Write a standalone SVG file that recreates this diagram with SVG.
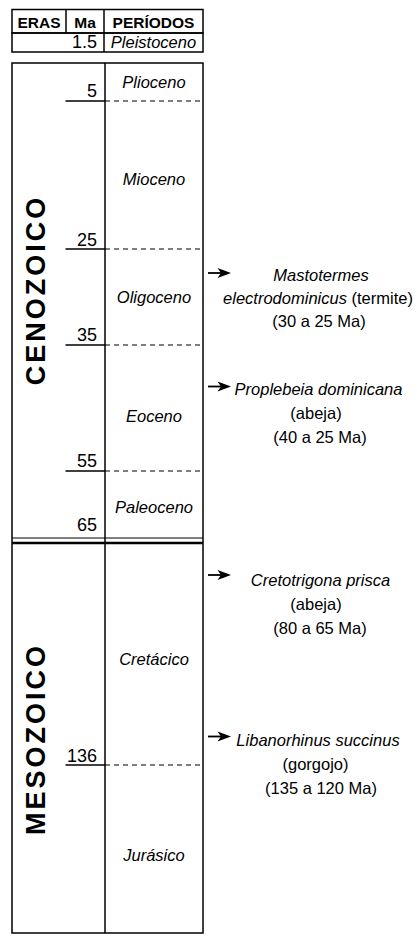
<svg xmlns="http://www.w3.org/2000/svg" width="417" height="943" viewBox="0 0 417 943">
<defs>
<style>
text{font-family:"Liberation Sans",Arial,sans-serif;fill:#000}
.ln{stroke:#000;stroke-width:1.5;fill:none}
.tk{stroke:#000;stroke-width:1.5}
.ds{stroke:#000;stroke-width:1.2;stroke-dasharray:5 4}
.hdr{font-weight:bold;font-size:15.5px;text-anchor:middle}
.per{font-style:italic;font-size:16.5px;text-anchor:middle}
.num{font-size:18px;text-anchor:end}
.era{font-weight:bold;font-size:27px;letter-spacing:3px;text-anchor:middle}
.ann{font-size:16.5px;text-anchor:middle}
.it{font-style:italic}
.ar{stroke:#000;stroke-width:1.8}
</style>
</defs>
<rect width="417" height="943" fill="#fff"/>

<g id="header">
<rect class="ln" x="12" y="9.5" width="191" height="23.5"/>
<line class="ln" x1="66" y1="9.5" x2="66" y2="33"/>
<line class="ln" x1="104" y1="9.5" x2="104" y2="52"/>
<text class="hdr" x="39" y="28">ERAS</text>
<text class="hdr" x="85" y="28">Ma</text>
<text class="hdr" x="153.5" y="28">PERÍODOS</text>
</g>

<g id="pleistoceno">
<rect class="ln" x="12" y="33" width="191" height="19"/>
<text class="num" x="97" y="48">1.5</text>
<text class="per" x="153.5" y="48">Pleistoceno</text>
</g>

<g id="table">
<rect class="ln" x="12" y="63" width="191" height="870"/>
<line class="ln" x1="105" y1="63" x2="105" y2="933"/>
<line stroke="#000" stroke-width="1.2" x1="12" y1="538" x2="203" y2="538"/>
<line stroke="#000" stroke-width="2.5" x1="12" y1="543" x2="203" y2="543"/>
</g>

<g id="era-cenozoico">
<text class="era" transform="translate(45,290) rotate(-90)">CENOZOICO</text>
</g>
<g id="era-mesozoico">
<text class="era" transform="translate(45,739) rotate(-90)">MESOZOICO</text>
</g>

<g id="ticks">
<line class="tk" x1="65.5" y1="101" x2="105" y2="101"/>
<line class="ds" x1="105" y1="101" x2="203" y2="101"/>
<line class="tk" x1="65.5" y1="249" x2="105" y2="249"/>
<line class="ds" x1="105" y1="249" x2="203" y2="249"/>
<line class="tk" x1="65.5" y1="345" x2="105" y2="345"/>
<line class="ds" x1="105" y1="345" x2="203" y2="345"/>
<line class="tk" x1="65.5" y1="471" x2="105" y2="471"/>
<line class="ds" x1="105" y1="471" x2="203" y2="471"/>
<line class="tk" x1="65.5" y1="765" x2="105" y2="765"/>
<line class="ds" x1="105" y1="765" x2="203" y2="765"/>
</g>

<g id="ages">
<text class="num" x="97" y="97">5</text>
<text class="num" x="97" y="246">25</text>
<text class="num" x="97" y="341">35</text>
<text class="num" x="97" y="467">55</text>
<text class="num" x="97" y="531">65</text>
<text class="num" x="97" y="761.5">136</text>
</g>

<g id="periods">
<text class="per" x="154" y="87.5">Plioceno</text>
<text class="per" x="154" y="185">Mioceno</text>
<text class="per" x="154" y="303">Oligoceno</text>
<text class="per" x="154" y="421.5">Eoceno</text>
<text class="per" x="154" y="512.5">Paleoceno</text>
<text class="per" x="154" y="665">Cretácico</text>
<text class="per" x="154" y="860.5">Jurásico</text>
</g>

<g id="connectors">
<line class="ar" x1="208" y1="273" x2="222" y2="273"/>
<path d="M231,273 L217.5,268 L221,273 L217.5,278 Z"/>
<line class="ar" x1="208" y1="386.5" x2="222" y2="386.5"/>
<path d="M231,386.5 L217.5,381.5 L221,386.5 L217.5,391.5 Z"/>
<line class="ar" x1="208" y1="575" x2="222" y2="575"/>
<path d="M231,575 L217.5,570 L221,575 L217.5,580 Z"/>
<line class="ar" x1="208" y1="736.5" x2="222" y2="736.5"/>
<path d="M231,736.5 L217.5,731.5 L221,736.5 L217.5,741.5 Z"/>
</g>

<g id="fossil-mastotermes">
<text class="ann it" x="321" y="281">Mastotermes</text>
<text class="ann" x="318" y="304"><tspan class="it">electrodominicus</tspan> (termite)</text>
<text class="ann" x="319" y="327">(30 a 25 Ma)</text>
</g>
<g id="fossil-proplebeia">
<text class="ann it" x="318.5" y="395">Proplebeia dominicana</text>
<text class="ann" x="316" y="419">(abeja)</text>
<text class="ann" x="320" y="443">(40 a 25 Ma)</text>
</g>
<g id="fossil-cretotrigona">
<text class="ann it" x="320.5" y="586">Cretotrigona prisca</text>
<text class="ann" x="316" y="610">(abeja)</text>
<text class="ann" x="320" y="634">(80 a 65 Ma)</text>
</g>
<g id="fossil-libanorhinus">
<text class="ann it" x="318" y="746">Libanorhinus succinus</text>
<text class="ann" x="315.5" y="770">(gorgojo)</text>
<text class="ann" x="321" y="794">(135 a 120 Ma)</text>
</g>
</svg>
